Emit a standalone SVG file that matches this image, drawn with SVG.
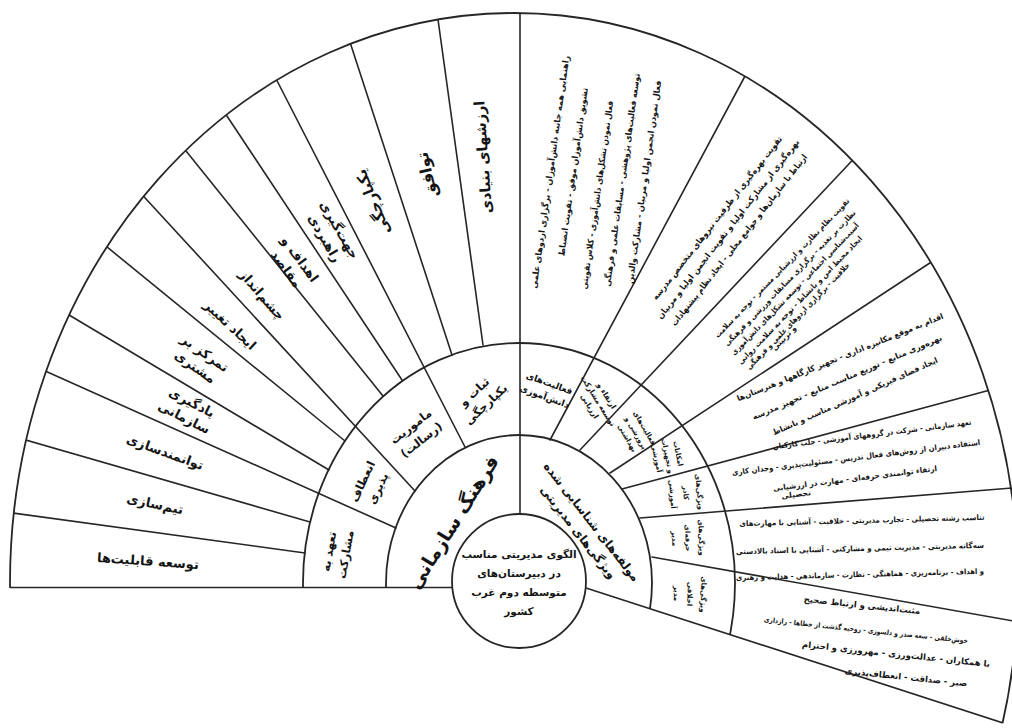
<svg xmlns="http://www.w3.org/2000/svg" width="1012" height="728" viewBox="0 0 1012 728">
<defs>
<clipPath id="fanClip"><path d="M0,0 H1030 V732 L586,588 L0,588 Z"/></clipPath>
<clipPath id="outerClip"><ellipse cx="514" cy="583" rx="504" ry="570"/></clipPath>
<style>
.ln{stroke:#262626;stroke-width:1.6;fill:none;stroke-linecap:round}
.ring{stroke:#262626;stroke-width:1.8;fill:none}
.t{font-family:"DejaVu Sans","Noto Sans",sans-serif;fill:#141414;text-anchor:middle;direction:rtl}
.b{font-weight:bold}
</style>
</defs>
<rect width="1012" height="728" fill="#ffffff"/>

<g id="rings" clip-path="url(#fanClip)">
<ellipse class="ring" cx="519" cy="583" rx="133" ry="148"/>
<ellipse class="ring" cx="519" cy="583" rx="216" ry="240"/>
<ellipse class="ring" cx="514" cy="583" rx="504" ry="570" stroke-width="2"/>
</g>

<g id="connectors" clip-path="url(#outerClip)">
<line class="ln" x1="520" y1="514" x2="520" y2="5"/>
<line class="ln" x1="483" y1="345" x2="436" y2="5"/>
<line class="ln" x1="452" y1="355" x2="347" y2="33"/>
<line class="ln" x1="465" y1="447" x2="271" y2="69"/>
<line class="ln" x1="402" y1="380" x2="219" y2="104"/>
<line class="ln" x1="383" y1="396" x2="178" y2="141"/>
<line class="ln" x1="415" y1="491" x2="135" y2="187"/>
<line class="ln" x1="345" y1="441" x2="96" y2="238"/>
<line class="ln" x1="329" y1="470" x2="59" y2="309"/>
<line class="ln" x1="396" y1="528" x2="34" y2="366"/>
<line class="ln" x1="310" y1="522" x2="12" y2="436"/>
<line class="ln" x1="305" y1="553" x2="-2" y2="511"/>
<line class="ln" x1="550" y1="440" x2="752" y2="63"/>
<line class="ln" x1="580" y1="450" x2="863" y2="149"/>
<line class="ln" x1="610" y1="473" x2="942" y2="255"/>
<line class="ln" x1="622" y1="489" x2="1005" y2="386"/>
<line class="ln" x1="640" y1="518" x2="1025" y2="487"/>
<line class="ln" x1="652" y1="557" x2="1030" y2="624"/>
<line class="ln" x1="586" y1="588" x2="1025" y2="730" stroke-width="2"/>
<line class="ln" x1="10" y1="587.5" x2="453" y2="587.5" stroke-width="2.4"/>
</g>

<g id="center">
<circle cx="519" cy="581" r="67" fill="#ffffff" stroke="#262626" stroke-width="1.8"/>
<text class="t b" font-size="10.5" transform="translate(519,583)"><tspan x="0" dy="-24.8">الگوی مدیریتی مناسب</tspan><tspan x="0" dy="19">در دبیرستان&#8204;های</tspan><tspan x="0" dy="19">متوسطه دوم غرب</tspan><tspan x="0" dy="19">کشور</tspan></text>
</g>

<g id="culture">
<text class="t b" font-size="19" transform="translate(453,522) rotate(-58)" dy="7">فرهنگ سازمانی</text>
</g>
<g id="components">
<text class="t b" font-size="12" transform="translate(585,527) rotate(52)"><tspan x="0" dy="-4.3">مولفه&#8204;های شناسایی شده</tspan><tspan x="0" dy="17">ویژگی&#8204;های مدیریتی</tspan></text>
</g>

<g id="left-ring2">
<text class="t b" font-size="11.5" transform="translate(480,398) rotate(-43)"><tspan x="0" dy="-4.3">ثبات و</tspan><tspan x="0" dy="17">یکپارچگی</tspan></text>
<text class="t b" font-size="11.5" transform="translate(416,433) rotate(-38)"><tspan x="0" dy="-4.3">ماموریت</tspan><tspan x="0" dy="17">(رسالت)</tspan></text>
<text class="t b" font-size="11.5" transform="translate(370,485) rotate(-65)"><tspan x="0" dy="-4.3">انعطاف</tspan><tspan x="0" dy="17">پذیری</tspan></text>
<text class="t b" font-size="11.5" transform="translate(337,553) rotate(-80)"><tspan x="0" dy="-4.3">تعهد به</tspan><tspan x="0" dy="17">مشارکت</tspan></text>
</g>

<g id="left-outer">
<text class="t b" font-size="14.5" transform="translate(483,157) rotate(-94)" dy="5">ارزشهای بنیادی</text>
<text class="t b" font-size="16" transform="translate(427,175) rotate(-103)" dy="5.5">توافق</text>
<text class="t b" font-size="15" transform="translate(373,202) rotate(-112)" dy="5">یکپارچگی</text>
<text class="t b" font-size="13" transform="translate(332,234) rotate(60)"><tspan x="0" dy="-4">جهت&#8204;گیری</tspan><tspan x="0" dy="17">راهبردی</tspan></text>
<text class="t b" font-size="13" transform="translate(293,264) rotate(54)"><tspan x="0" dy="-4">اهداف و</tspan><tspan x="0" dy="17">مقاصد</tspan></text>
<text class="t b" font-size="13" transform="translate(262,295) rotate(49)" dy="4.5">چشم&#8204;انداز</text>
<text class="t b" font-size="13" transform="translate(230,325) rotate(43)" dy="4.5">ایجاد تغییر</text>
<text class="t b" font-size="13" transform="translate(200,360) rotate(35)"><tspan x="0" dy="-4">تمرکز بر</tspan><tspan x="0" dy="17">مشتری</tspan></text>
<text class="t b" font-size="13" transform="translate(188,410) rotate(27)"><tspan x="0" dy="-4">یادگیری</tspan><tspan x="0" dy="17">سازمانی</tspan></text>
<text class="t b" font-size="13" transform="translate(165,452) rotate(20)" dy="4.5">توانمندسازی</text>
<text class="t b" font-size="13" transform="translate(155,504) rotate(12)" dy="4.5">تیم&#8204;سازی</text>
<text class="t b" font-size="13" transform="translate(148,561) rotate(4)" dy="4.5">توسعه قابلیت&#8204;ها</text>
</g>

<g id="right-ring2">
<text class="t b" font-size="9" transform="translate(547,390) rotate(20)"><tspan x="0" dy="-4">فعالیت&#8204;های</tspan><tspan x="0" dy="14">دانش&#8204;آموزی</tspan></text>
<text class="t b" font-size="7.5" transform="translate(598,401) rotate(58)"><tspan x="0" dy="-7.5">ارتقاء و</tspan><tspan x="0" dy="10">توسعه مشارکت</tspan><tspan x="0" dy="10">ارزیابی</tspan></text>
<text class="t b" font-size="7" transform="translate(636,433) rotate(60)"><tspan x="0" dy="-7.5">فعالیت&#8204;های</tspan><tspan x="0" dy="10">پرورشی و</tspan><tspan x="0" dy="10">بهداشتی</tspan></text>
<text class="t b" font-size="7" transform="translate(667,456) rotate(78)"><tspan x="0" dy="-9">امکانات</tspan><tspan x="0" dy="11">و تجهیزات</tspan><tspan x="0" dy="11">آموزشی</tspan></text>
<text class="t b" font-size="7" transform="translate(686,493) rotate(85)"><tspan x="0" dy="-11">ویژگی&#8204;های</tspan><tspan x="0" dy="13.5">کادر</tspan><tspan x="0" dy="13.5">آموزشی</tspan></text>
<text class="t b" font-size="7" transform="translate(688,538) rotate(88)"><tspan x="0" dy="-11">ویژگی&#8204;های</tspan><tspan x="0" dy="13.5">حرفه&#8204;ای</tspan><tspan x="0" dy="13.5">مدیر</tspan></text>
<text class="t b" font-size="7" transform="translate(690,594) rotate(92)"><tspan x="0" dy="-11">ویژگی&#8204;های</tspan><tspan x="0" dy="13.5">اخلاقی</tspan><tspan x="0" dy="13.5">مدیر</tspan></text>
</g>

<g id="right-outer-a">
<text class="t b" font-size="8.5" transform="translate(550,172) rotate(-82)" dy="3" textLength="235" lengthAdjust="spacingAndGlyphs">راهنمایی همه جانبه دانش&#8204;آموزان - برگزاری اردوهای علمی</text>
<text class="t b" font-size="8.5" transform="translate(573,172) rotate(-82)" dy="3" textLength="170" lengthAdjust="spacingAndGlyphs">تشویق دانش&#8204;آموزان موفق - تقویت انضباط</text>
<text class="t b" font-size="8.5" transform="translate(597,195) rotate(-82)" dy="3" textLength="190" lengthAdjust="spacingAndGlyphs">فعال نمودن تشکل&#8204;های دانش&#8204;آموزی - کلاس تقویتی</text>
<text class="t b" font-size="8.5" transform="translate(622,180) rotate(-82)" dy="3" textLength="215" lengthAdjust="spacingAndGlyphs">توسعه فعالیت&#8204;های پژوهشی - مسابقات علمی و فرهنگی</text>
<text class="t b" font-size="8.5" transform="translate(644,182) rotate(-82)" dy="3" textLength="205" lengthAdjust="spacingAndGlyphs">فعال نمودن انجمن اولیا و مربیان - مشارکت والدین</text>
</g>

<g id="right-outer-b">
<text class="t b" font-size="8.5" transform="translate(717,218) rotate(-52)" dy="3" textLength="205" lengthAdjust="spacingAndGlyphs">تقویت بهره&#8204;گیری از ظرفیت نیروهای متخصص مدرسه</text>
<text class="t b" font-size="8.5" transform="translate(728,229) rotate(-52)" dy="3" textLength="225" lengthAdjust="spacingAndGlyphs">بهره&#8204;گیری از مشارکت اولیا و تقویت انجمن اولیا و مربیان</text>
<text class="t b" font-size="8.5" transform="translate(739,240) rotate(-52)" dy="3" textLength="215" lengthAdjust="spacingAndGlyphs">ارتباط با سازمان&#8204;ها و جوامع محلی - ایجاد نظام پیشنهادات</text>
</g>

<g id="right-outer-c">
<text class="t b" font-size="7.5" transform="translate(782,268) rotate(-46)" dy="2.6" textLength="190" lengthAdjust="spacingAndGlyphs">تقویت نظام نظارت و ارزشیابی مستمر - توجه به سلامت</text>
<text class="t b" font-size="7.5" transform="translate(790,278) rotate(-46)" dy="2.6" textLength="185" lengthAdjust="spacingAndGlyphs">نظارت بر تغذیه - برگزاری مسابقات ورزشی و فرهنگی</text>
<text class="t b" font-size="7.5" transform="translate(795,289) rotate(-46)" dy="2.6" textLength="180" lengthAdjust="spacingAndGlyphs">آسیب&#8204;شناسی اجتماعی - توسعه تشکل&#8204;های دانش&#8204;آموزی</text>
<text class="t b" font-size="7.5" transform="translate(800,300) rotate(-46)" dy="2.6" textLength="175" lengthAdjust="spacingAndGlyphs">ایجاد محیط امن و بانشاط - توجه به سلامت روانی</text>
<text class="t b" font-size="7.5" transform="translate(798,316) rotate(-46)" dy="2.6" textLength="145" lengthAdjust="spacingAndGlyphs">خلاقیت - برگزاری اردوهای علمی و فرهنگی</text>
<text class="t b" font-size="7.5" transform="translate(784,338) rotate(-46)" dy="2.6">و تربیتی</text>
</g>

<g id="right-outer-d">
<text class="t b" font-size="8" transform="translate(840,357) rotate(-22)" dy="3" textLength="222" lengthAdjust="spacingAndGlyphs">اقدام به موقع مکانیزه اداری - تجهیز کارگاهها و هنرستان&#8204;ها</text>
<text class="t b" font-size="8" transform="translate(847,377) rotate(-23)" dy="3" textLength="205" lengthAdjust="spacingAndGlyphs">بهره&#8204;وری منابع - توزیع مناسب منابع - تجهیز مدرسه</text>
<text class="t b" font-size="8" transform="translate(855,396) rotate(-24)" dy="3" textLength="180" lengthAdjust="spacingAndGlyphs">ایجاد فضای فیزیکی و آموزشی مناسب و بانشاط</text>
</g>

<g id="right-outer-e">
<text class="t b" font-size="7.5" transform="translate(872,434) rotate(-7)" dy="3" textLength="200" lengthAdjust="spacingAndGlyphs">تعهد سازمانی - شرکت در گروههای آموزشی - جلب کارکنان</text>
<text class="t b" font-size="7.5" transform="translate(856,457) rotate(-7)" dy="3" textLength="250" lengthAdjust="spacingAndGlyphs">استفاده دبیران از روش&#8204;های فعال تدریس - مسئولیت&#8204;پذیری - وجدان کاری</text>
<text class="t b" font-size="7.5" transform="translate(855,478) rotate(-7)" dy="3" textLength="165" lengthAdjust="spacingAndGlyphs">ارتقاء توانمندی حرفه&#8204;ای - مهارت در ارزشیابی</text>
<text class="t b" font-size="7.5" transform="translate(796,494) rotate(-7)" dy="3">تحصیلی</text>
</g>

<g id="right-outer-f">
<text class="t b" font-size="7.5" transform="translate(862,520) rotate(-1.5)" dy="3" textLength="245" lengthAdjust="spacingAndGlyphs">تناسب رشته تحصیلی - تجارب مدیریتی - خلاقیت - آشنایی با مهارت&#8204;های</text>
<text class="t b" font-size="7.5" transform="translate(860,548) rotate(-1.5)" dy="3" textLength="248" lengthAdjust="spacingAndGlyphs">سه&#8204;گانه مدیریتی - مدیریت تیمی و مشارکتی - آشنایی با اسناد بالادستی</text>
<text class="t b" font-size="7.5" transform="translate(860,574) rotate(-1.5)" dy="3" textLength="248" lengthAdjust="spacingAndGlyphs">و اهداف - برنامه&#8204;ریزی - هماهنگی - نظارت - سازماندهی - هدایت و رهبری</text>
</g>

<g id="right-outer-g">
<text class="t b" font-size="8.5" transform="translate(862,605) rotate(6)" dy="3">مثبت&#8204;اندیشی و ارتباط صحیح</text>
<text class="t b" font-size="7" transform="translate(866,630) rotate(6)" dy="2.5" textLength="205" lengthAdjust="spacingAndGlyphs">خوش&#8204;خلقی - سعه صدر و دلسوزی - روحیه گذشت از خطاها - رازداری</text>
<text class="t b" font-size="8.5" transform="translate(896,654) rotate(6)" dy="3">با همکاران - عدالت&#8204;ورزی - مهرورزی و احترام</text>
<text class="t b" font-size="8.5" transform="translate(906,677) rotate(6)" dy="3">صبر - صداقت - انعطاف&#8204;پذیری</text>
</g>
</svg>
